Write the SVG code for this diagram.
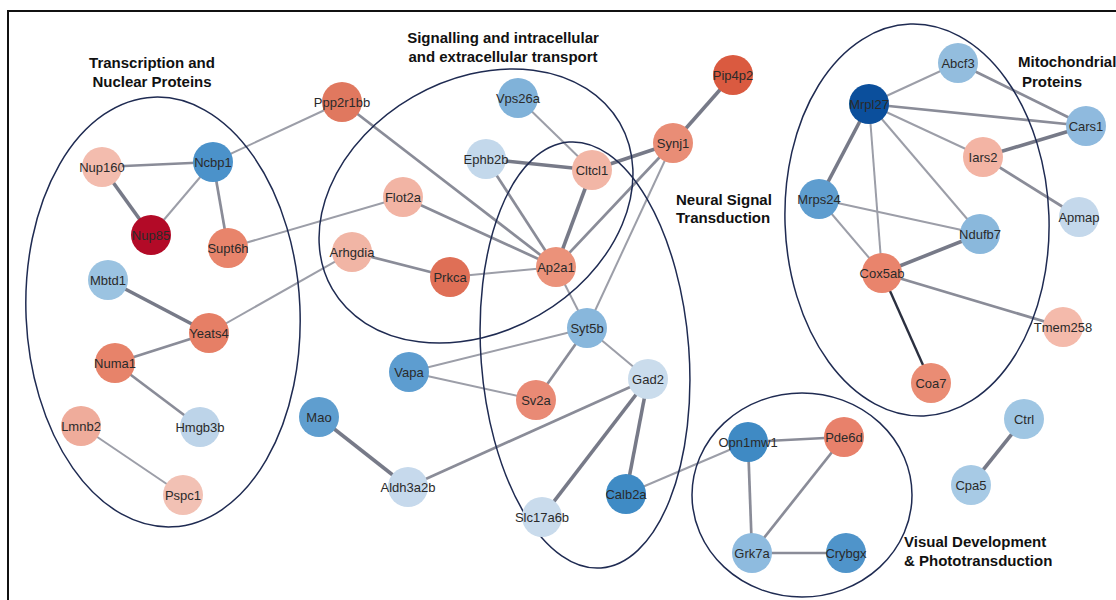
<svg xmlns="http://www.w3.org/2000/svg" width="1116" height="600" viewBox="0 0 1116 600">
<style>
.frame{stroke:#111;stroke-width:2;fill:none}
.grp{fill:none;stroke:#1f2b52;stroke-width:1.5}
.e{stroke:#9c9ea8;stroke-width:2;fill:none}
.m{stroke:#8a8c98;stroke-width:2.7;fill:none}
.t{stroke:#777a88;stroke-width:3.6;fill:none}
.d{stroke:#2b3040;stroke-width:2.4;fill:none}
.n circle{stroke:none}
.n text{font-family:"Liberation Sans",Arial,sans-serif;font-size:13px;fill:#2a2a2a;text-anchor:middle}
.title{font-family:"Liberation Sans",Arial,sans-serif;font-size:15px;font-weight:bold;fill:#111}
</style>
<rect width="1116" height="600" fill="#fff"/>
<path class="frame" d="M8,600 V11 H1116"/>

<g id="connectors">
<line class="e" x1="213" y1="162" x2="342" y2="102"/>
<line class="m" x1="102" y1="167" x2="213" y2="162"/>
<line class="t" x1="102" y1="167" x2="151" y2="235"/>
<line class="e" x1="213" y1="162" x2="151" y2="235"/>
<line class="m" x1="213" y1="162" x2="228" y2="248"/>
<line class="e" x1="228" y1="248" x2="403" y2="197"/>
<line class="t" x1="108" y1="280" x2="209" y2="333"/>
<line class="e" x1="209" y1="333" x2="352" y2="252"/>
<line class="m" x1="209" y1="333" x2="115" y2="363"/>
<line class="m" x1="115" y1="363" x2="200" y2="427"/>
<line class="e" x1="81" y1="426" x2="183" y2="495"/>
<line class="m" x1="342" y1="102" x2="556" y2="267"/>
<line class="m" x1="403" y1="197" x2="556" y2="267"/>
<line class="m" x1="352" y1="252" x2="450" y2="277"/>
<line class="e" x1="450" y1="277" x2="556" y2="267"/>
<line class="e" x1="518" y1="98" x2="592" y2="170"/>
<line class="t" x1="486" y1="159" x2="592" y2="170"/>
<line class="m" x1="486" y1="159" x2="556" y2="267"/>
<line class="t" x1="592" y1="170" x2="556" y2="267"/>
<line class="t" x1="592" y1="170" x2="673" y2="143"/>
<line class="m" x1="673" y1="143" x2="556" y2="267"/>
<line class="t" x1="673" y1="143" x2="733" y2="75"/>
<line class="e" x1="673" y1="143" x2="587" y2="328"/>
<line class="e" x1="556" y1="267" x2="587" y2="328"/>
<line class="e" x1="587" y1="328" x2="409" y2="372"/>
<line class="m" x1="587" y1="328" x2="536" y2="400"/>
<line class="e" x1="587" y1="328" x2="648" y2="379"/>
<line class="e" x1="409" y1="372" x2="536" y2="400"/>
<line class="m" x1="648" y1="379" x2="408" y2="487"/>
<line class="t" x1="648" y1="379" x2="542" y2="517"/>
<line class="t" x1="648" y1="379" x2="626" y2="494"/>
<line class="t" x1="319" y1="417" x2="408" y2="487"/>
<line class="e" x1="626" y1="494" x2="748" y2="442"/>
<line class="m" x1="748" y1="442" x2="844" y2="437"/>
<line class="m" x1="748" y1="442" x2="752" y2="553"/>
<line class="m" x1="844" y1="437" x2="752" y2="553"/>
<line class="m" x1="752" y1="553" x2="846" y2="553"/>
<line class="t" x1="1024" y1="419" x2="971" y2="485"/>
<line class="e" x1="958" y1="63" x2="869" y2="104"/>
<line class="m" x1="958" y1="63" x2="1086" y2="126"/>
<line class="m" x1="869" y1="104" x2="1086" y2="126"/>
<line class="e" x1="869" y1="104" x2="983" y2="157"/>
<line class="t" x1="869" y1="104" x2="819" y2="199"/>
<line class="e" x1="869" y1="104" x2="882" y2="273"/>
<line class="e" x1="869" y1="104" x2="980" y2="234"/>
<line class="t" x1="983" y1="157" x2="1086" y2="126"/>
<line class="m" x1="983" y1="157" x2="1079" y2="217"/>
<line class="e" x1="819" y1="199" x2="980" y2="234"/>
<line class="e" x1="819" y1="199" x2="882" y2="273"/>
<line class="t" x1="980" y1="234" x2="882" y2="273"/>
<line class="m" x1="882" y1="273" x2="1063" y2="327"/>
<line class="d" x1="882" y1="273" x2="931" y2="383"/>
</g>

<g id="groups">
<ellipse class="grp" cx="163" cy="312" rx="137" ry="215" transform="rotate(-2.5 163 312)"/>
<ellipse class="grp" cx="476" cy="206" rx="166" ry="126" transform="rotate(-30 476 206)"/>
<ellipse class="grp" cx="585" cy="355" rx="104" ry="213.5" transform="rotate(-4.3 585 355)"/>
<ellipse class="grp" cx="917" cy="220" rx="132" ry="196" transform="rotate(-2 917 220)"/>
<ellipse class="grp" cx="802" cy="495" rx="110" ry="102"/>
</g>

<g id="node-Nup160" class="n"><circle cx="102" cy="167" r="20" fill="#f3bcae"/><text x="102" y="171.5">Nup160</text></g>
<g id="node-Ncbp1" class="n"><circle cx="213" cy="162" r="20" fill="#4b92ca"/><text x="213" y="166.5">Ncbp1</text></g>
<g id="node-Nup85" class="n"><circle cx="151" cy="235" r="20" fill="#b30a27"/><text x="151" y="239.5">Nup85</text></g>
<g id="node-Supt6h" class="n"><circle cx="228" cy="248" r="20" fill="#e8846b"/><text x="228" y="252.5">Supt6h</text></g>
<g id="node-Mbtd1" class="n"><circle cx="108" cy="280" r="20" fill="#9bc3e1"/><text x="108" y="284.5">Mbtd1</text></g>
<g id="node-Yeats4" class="n"><circle cx="209" cy="333" r="20" fill="#e67f66"/><text x="209" y="337.5">Yeats4</text></g>
<g id="node-Numa1" class="n"><circle cx="115" cy="363" r="20" fill="#e7836a"/><text x="115" y="367.5">Numa1</text></g>
<g id="node-Lmnb2" class="n"><circle cx="81" cy="426" r="20" fill="#efac9b"/><text x="81" y="430.5">Lmnb2</text></g>
<g id="node-Hmgb3b" class="n"><circle cx="200" cy="427" r="20" fill="#bdd4e9"/><text x="200" y="431.5">Hmgb3b</text></g>
<g id="node-Pspc1" class="n"><circle cx="183" cy="495" r="20" fill="#f2c1b4"/><text x="183" y="499.5">Pspc1</text></g>
<g id="node-Ppp2r1bb" class="n"><circle cx="342" cy="102" r="20" fill="#e0785f"/><text x="342" y="106.5">Ppp2r1bb</text></g>
<g id="node-Vps26a" class="n"><circle cx="518" cy="98" r="20" fill="#80b2d9"/><text x="518" y="102.5">Vps26a</text></g>
<g id="node-Ephb2b" class="n"><circle cx="486" cy="159" r="20" fill="#c3d8eb"/><text x="486" y="163.5">Ephb2b</text></g>
<g id="node-Cltcl1" class="n"><circle cx="592" cy="170" r="20" fill="#f2b6a6"/><text x="592" y="174.5">Cltcl1</text></g>
<g id="node-Flot2a" class="n"><circle cx="403" cy="197" r="20" fill="#f2b4a4"/><text x="403" y="201.5">Flot2a</text></g>
<g id="node-Arhgdia" class="n"><circle cx="352" cy="252" r="20" fill="#f1b5a5"/><text x="352" y="256.5">Arhgdia</text></g>
<g id="node-Prkca" class="n"><circle cx="450" cy="277" r="20" fill="#df6f56"/><text x="450" y="281.5">Prkca</text></g>
<g id="node-Ap2a1" class="n"><circle cx="556" cy="267" r="20" fill="#eb927a"/><text x="556" y="271.5">Ap2a1</text></g>
<g id="node-Synj1" class="n"><circle cx="673" cy="143" r="20" fill="#e98d76"/><text x="673" y="147.5">Synj1</text></g>
<g id="node-Pip4p2" class="n"><circle cx="733" cy="75" r="20" fill="#da5a40"/><text x="733" y="79.5">Pip4p2</text></g>
<g id="node-Syt5b" class="n"><circle cx="587" cy="328" r="20" fill="#88b7dc"/><text x="587" y="332.5">Syt5b</text></g>
<g id="node-Vapa" class="n"><circle cx="409" cy="372" r="20" fill="#5d9dd0"/><text x="409" y="376.5">Vapa</text></g>
<g id="node-Sv2a" class="n"><circle cx="536" cy="400" r="20" fill="#e98a75"/><text x="536" y="404.5">Sv2a</text></g>
<g id="node-Gad2" class="n"><circle cx="648" cy="379" r="20" fill="#cadcec"/><text x="648" y="383.5">Gad2</text></g>
<g id="node-Mao" class="n"><circle cx="319" cy="417" r="20" fill="#5f9ecf"/><text x="319" y="421.5">Mao</text></g>
<g id="node-Aldh3a2b" class="n"><circle cx="408" cy="487" r="20" fill="#c6d9ec"/><text x="408" y="491.5">Aldh3a2b</text></g>
<g id="node-Slc17a6b" class="n"><circle cx="542" cy="517" r="20" fill="#c9dbec"/><text x="542" y="521.5">Slc17a6b</text></g>
<g id="node-Calb2a" class="n"><circle cx="626" cy="494" r="20" fill="#3f8bc5"/><text x="626" y="498.5">Calb2a</text></g>
<g id="node-Abcf3" class="n"><circle cx="958" cy="63" r="20" fill="#93bdde"/><text x="958" y="67.5">Abcf3</text></g>
<g id="node-Mrpl27" class="n"><circle cx="869" cy="104" r="20" fill="#0b4f9c"/><text x="869" y="108.5">Mrpl27</text></g>
<g id="node-Cars1" class="n"><circle cx="1086" cy="126" r="20" fill="#8fbade"/><text x="1086" y="130.5">Cars1</text></g>
<g id="node-Iars2" class="n"><circle cx="983" cy="157" r="20" fill="#f3b4a4"/><text x="983" y="161.5">Iars2</text></g>
<g id="node-Mrps24" class="n"><circle cx="819" cy="199" r="20" fill="#5e9dcf"/><text x="819" y="203.5">Mrps24</text></g>
<g id="node-Apmap" class="n"><circle cx="1079" cy="217" r="20" fill="#c4d8eb"/><text x="1079" y="221.5">Apmap</text></g>
<g id="node-Ndufb7" class="n"><circle cx="980" cy="234" r="20" fill="#8ab8dc"/><text x="980" y="238.5">Ndufb7</text></g>
<g id="node-Cox5ab" class="n"><circle cx="882" cy="273" r="20" fill="#e9846c"/><text x="882" y="277.5">Cox5ab</text></g>
<g id="node-Tmem258" class="n"><circle cx="1063" cy="327" r="20" fill="#f4baab"/><text x="1063" y="331.5">Tmem258</text></g>
<g id="node-Coa7" class="n"><circle cx="931" cy="383" r="20" fill="#ea8c74"/><text x="931" y="387.5">Coa7</text></g>
<g id="node-Ctrl" class="n"><circle cx="1024" cy="419" r="20" fill="#9fc6e3"/><text x="1024" y="423.5">Ctrl</text></g>
<g id="node-Cpa5" class="n"><circle cx="971" cy="485" r="20" fill="#a7cae5"/><text x="971" y="489.5">Cpa5</text></g>
<g id="node-Opn1mw1" class="n"><circle cx="748" cy="442" r="20" fill="#3f8ac4"/><text x="748" y="446.5">Opn1mw1</text></g>
<g id="node-Pde6d" class="n"><circle cx="844" cy="437" r="20" fill="#e8816b"/><text x="844" y="441.5">Pde6d</text></g>
<g id="node-Grk7a" class="n"><circle cx="752" cy="553" r="20" fill="#8ebbdf"/><text x="752" y="557.5">Grk7a</text></g>
<g id="node-Crybgx" class="n"><circle cx="846" cy="553" r="20" fill="#4f94ca"/><text x="846" y="557.5">Crybgx</text></g>

<g id="titles">
<text class="title" x="152" y="68" text-anchor="middle">Transcription and</text>
<text class="title" x="152" y="87" text-anchor="middle">Nuclear Proteins</text>
<text class="title" x="503" y="43" text-anchor="middle">Signalling and intracellular</text>
<text class="title" x="503" y="62" text-anchor="middle">and extracellular transport</text>
<text class="title" x="1018" y="67">Mitochondrial</text>
<text class="title" x="1022" y="87">Proteins</text>
<text class="title" x="676" y="205">Neural Signal</text>
<text class="title" x="676" y="223">Transduction</text>
<text class="title" x="904" y="547">Visual Development</text>
<text class="title" x="904" y="566">&amp; Phototransduction</text>
</g>
</svg>
